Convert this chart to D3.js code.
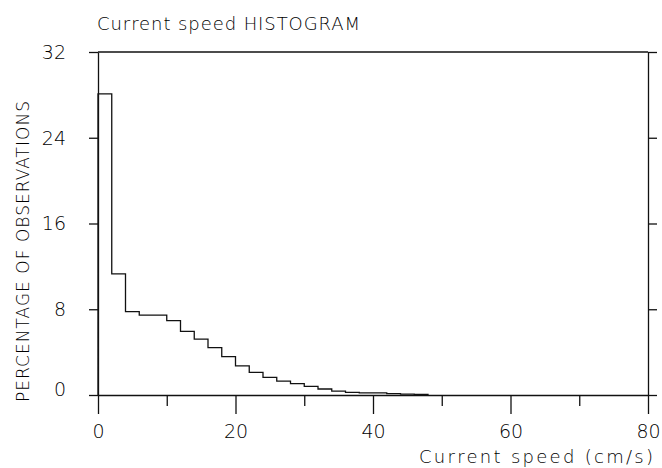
<!DOCTYPE html>
<html>
<head>
<meta charset="utf-8">
<script src="https://cdn.jsdelivr.net/npm/d3@7"></script>
<style>
  body { margin: 0; background: #fff; }
  svg { display: block; }
  text { font-family: "DejaVu Sans", sans-serif; font-weight: 200; fill: #000; }
</style>
</head>
<body>
<svg width="662" height="468"></svg>
<script>
// Histogram bins (cm/s), 2 cm/s wide, and percentage of observations in each
var binStarts = [0, 2, 4, 6, 8, 10, 12, 14, 16, 18, 20, 22, 24, 26, 28, 30, 32, 34, 36, 38, 40, 42, 44, 46];
var binPercent = [28.1, 11.3, 7.77, 7.46, 7.45, 6.93, 5.94, 5.22, 4.42, 3.58, 2.71, 2.11, 1.65, 1.3,
                  1.06, 0.81, 0.56, 0.37, 0.25, 0.19, 0.19, 0.12, 0.09, 0.05];
var binWidth = 2;

var xTicks = [0, 20, 40, 60, 80];
var xMinorTicks = [10, 30, 50, 70];
var yTicks = [0, 8, 16, 24, 32];

var svg = d3.select('svg');

var xScale = d3.scaleLinear().domain([0, 80]).range([98, 648]);
var yScale = d3.scaleLinear().domain([0, 32]).range([395, 52]);

var lineColor = '#111';
var fontStack = '"DejaVu Sans", sans-serif';

// Left axis with outward ticks and labels
var yAxisG = svg.append('g')
    .attr('transform', 'translate(' + xScale(0) + ',0)')
    .call(d3.axisLeft(yScale).tickValues(yTicks).tickSize(9).tickSizeOuter(0).tickPadding(23));
yAxisG.selectAll('text')
    .attr('font-size', 19)
    .attr('dy', function(d) { return d === 0 ? '0.0em' : '0.34em'; });

// Right axis, ticks only
svg.append('g')
    .attr('transform', 'translate(' + xScale(80) + ',0)')
    .call(d3.axisRight(yScale).tickValues(yTicks).tickSize(9).tickSizeOuter(0).tickFormat(''));

// Bottom axis, major ticks with labels plus minor ticks
var xAxisG = svg.append('g')
    .attr('transform', 'translate(0,' + yScale(0) + ')')
    .call(d3.axisBottom(xScale).tickValues(xTicks).tickSize(19).tickSizeOuter(0).tickPadding(11));
xAxisG.selectAll('text')
    .attr('font-size', 19);

svg.append('g')
    .attr('transform', 'translate(0,' + yScale(0) + ')')
    .call(d3.axisBottom(xScale).tickValues(xMinorTicks).tickSize(11).tickSizeOuter(0).tickFormat(''))
    .select('.domain').remove();

// Top frame line
svg.append('line')
    .attr('x1', xScale(0)).attr('x2', xScale(80))
    .attr('y1', yScale(32)).attr('y2', yScale(32));

svg.selectAll('.domain, .tick line, line')
    .attr('stroke', lineColor)
    .attr('stroke-width', 1.3);
svg.selectAll('.tick text')
    .attr('fill', '#000')
    .style('font-family', fontStack)
    .style('font-weight', 200);

// Histogram outline as a step line
var pts = [[0, 0]];
binStarts.forEach(function(b, i) { pts.push([b, binPercent[i]]); });
pts.push([binStarts[binStarts.length - 1] + binWidth, 0]);

var step = d3.line()
    .x(function(d) { return xScale(d[0]); })
    .y(function(d) { return yScale(d[1]); })
    .curve(d3.curveStepAfter);

svg.append('path')
    .datum(pts)
    .attr('d', step)
    .attr('fill', 'none')
    .attr('stroke', lineColor)
    .attr('stroke-width', 1.3);

// Titles
svg.append('text')
    .attr('x', 97).attr('y', 30)
    .attr('font-size', 18)
    .attr('textLength', 263).attr('lengthAdjust', 'spacing')
    .text('Current speed HISTOGRAM');

svg.append('text')
    .attr('x', 419).attr('y', 463)
    .attr('font-size', 18)
    .attr('textLength', 234).attr('lengthAdjust', 'spacing')
    .text('Current speed (cm/s)');

svg.append('text')
    .attr('transform', 'translate(29,402) rotate(-90)')
    .attr('font-size', 17)
    .attr('textLength', 301).attr('lengthAdjust', 'spacing')
    .text('PERCENTAGE OF OBSERVATIONS');
</script>
</body>
</html>
